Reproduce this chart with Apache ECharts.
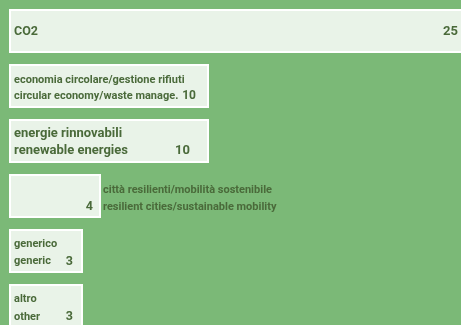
<!DOCTYPE html>
<html>
<head>
<meta charset="utf-8">
<script src="https://cdn.jsdelivr.net/npm/echarts@6/dist/echarts.min.js"></script>
<style>
  html, body { margin: 0; padding: 0; background: #7bb977; }
  #chart { width: 461px; height: 325px; }
</style>
</head>
<body>
<div id="chart"></div>
<script>
// Themes: Italian label, English label, number of items
const namesIt = ['CO2', 'economia circolare/gestione rifiuti', 'energie rinnovabili',
  'città resilienti/mobilità sostenibile', 'generico', 'altro'];
const namesEn = ['', 'circular economy/waste manage.', 'renewable energies',
  'resilient cities/sustainable mobility', 'generic', 'other'];
const values = [25, 10, 10, 4, 3, 3];

// Per-row text styling: name size, line gap, block shift, value size, value inset, names outside the box
const rowStyle = [
  { name: 12.5, gap: 0, shift: 0.5, val: 13, inset: 20, outside: false },
  { name: 11, gap: 16, shift: 2, val: 12, inset: 12, outside: false },
  { name: 13, gap: 16.5, shift: 1, val: 13, inset: 18, outside: false },
  { name: 11, gap: 17.5, shift: 2.5, val: 12.5, inset: 7, outside: true },
  { name: 11, gap: 17, shift: 2, val: 12.5, inset: 9, outside: false },
  { name: 11, gap: 18.5, shift: 2, val: 12.5, inset: 9, outside: false }
];

const axisStart = -1;
const FONT = 'Roboto, sans-serif';
const TEXT = '#4a6a3a';

const chart = echarts.init(document.getElementById('chart'), null, { renderer: 'canvas' });

function renderItem(params, api) {
  const i = api.value(0);
  const v = api.value(1);
  const st = rowStyle[i];
  const p0 = api.coord([axisStart, i]);
  const p1 = api.coord([v, i]);
  const cy = p0[1];
  const h = 42;
  const children = [{
    type: 'rect',
    shape: { x: p0[0], y: cy - h / 2, width: p1[0] - p0[0], height: h },
    style: { fill: '#e9f3e8', stroke: '#ffffff', lineWidth: 2 }
  }];
  const nameX = st.outside ? p1[0] + 3 : p0[0] + 4;
  const mid = cy + st.shift;
  const lines = namesEn[i] ? [namesIt[i], namesEn[i]] : [namesIt[i]];
  const y1 = lines.length === 2 ? mid - st.gap / 2 : mid;
  lines.forEach(function (t, k) {
    children.push({
      type: 'text',
      style: {
        text: t, x: nameX, y: y1 + k * st.gap,
        fill: TEXT, fontSize: st.name, fontWeight: 'bold', fontFamily: FONT,
        align: 'left', verticalAlign: 'middle'
      }
    });
  });
  const valY = lines.length === 2 ? mid + st.gap / 2 : mid;
  children.push({
    type: 'text',
    style: {
      text: String(v), x: p1[0] - st.inset, y: valY,
      fill: TEXT, fontSize: st.val, fontWeight: 'bold', fontFamily: FONT,
      align: 'right', verticalAlign: 'middle'
    }
  });
  return { type: 'group', children: children };
}

chart.setOption({
  backgroundColor: '#7bb977',
  animation: false,
  grid: { left: 10, top: 3.5, width: 450, height: 330, containLabel: false, outerBoundsMode: 'none' },
  xAxis: { type: 'value', min: axisStart, max: 24, show: false },
  yAxis: { type: 'category', data: namesIt, inverse: true, show: false },
  series: [{
    type: 'custom',
    clip: false,
    renderItem: renderItem,
    encode: { x: 1, y: 0 },
    data: values.map(function (v, i) { return [i, v]; })
  }]
});
</script>
</body>
</html>
